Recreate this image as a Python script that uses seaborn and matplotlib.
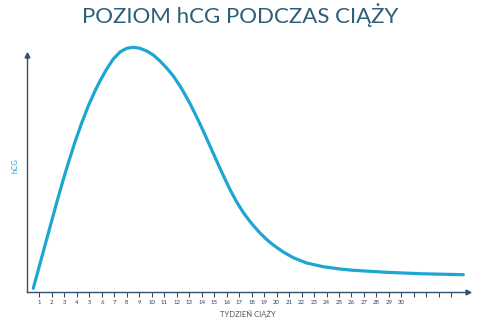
import matplotlib
matplotlib.use("Agg")
import matplotlib.pyplot as plt
import seaborn as sns
import pandas as pd

# Data (relative hCG level, arbitrary units)
weeks = [0.503, 0.904, 1.304, 1.705, 2.106, 2.506, 2.907, 3.308, 3.845, 4.381, 4.910,
         5.447, 5.848, 6.385, 6.913, 7.450, 7.987, 8.516, 9.053, 9.590, 10.119,
         10.655, 11.192, 11.721, 12.258, 12.522, 13.059, 13.596, 14.125, 14.662,
         15.199, 15.728, 16.264, 16.801, 17.330, 17.867, 18.131, 18.668, 19.205, 19.734,
         20.535, 21.337, 22.410, 23.740, 25.079, 26.14, 28.82, 31.49, 34.96]
hcg = [3.7, 22.0, 40.3, 58.7, 77.0, 95.0, 112.5, 129.0, 150.0, 169.0, 186.0,
       201.0, 211.0, 223.0, 233.0, 240.0, 243.7, 244.7, 243.7, 241.0, 237.0,
       231.0, 224.0, 216.0, 206.0, 200.5, 188.5, 175.0, 161.0, 146.0,
       131.0, 116.5, 102.5, 90.0, 79.5, 70.5, 66.5, 59.0, 52.5, 47.0,
       40.0, 34.3, 29.0, 25.3, 23.0, 21.7, 19.7, 18.3, 17.3]
tick_weeks = list(range(1, 35))
tick_labels = [str(i) if i <= 30 else "" for i in tick_weeks]
title = "POZIOM hCG PODCZAS CIĄŻY"
xlabel = "TYDZIEŃ CIĄŻY"
ylabel = "hCG"

sns.set_style("white")
plt.rcParams['font.family'] = ['Lato', 'DejaVu Sans']

axis_col = "#34516b"
line_col = "#1ea6d2"

fig = plt.figure(figsize=(4.8, 3.2), dpi=100)
ax = fig.add_axes([27/480, 28/320, (468-27)/480, (292-40)/320])

df = pd.DataFrame({"week": weeks, "hcg": hcg})
sns.lineplot(data=df, x="week", y="hcg", ax=ax, color=line_col, linewidth=2.3,
             sort=True, clip_on=False, solid_joinstyle="round", solid_capstyle="round")

xmax = (468-39.5)/12.48 + 1
ytop = 237
ax.set_xlim(0, xmax)
ax.set_ylim(0, 252)

for s in ["top", "right"]:
    ax.spines[s].set_visible(False)
ax.spines["left"].set_bounds(0, ytop)
for s in ["left", "bottom"]:
    ax.spines[s].set_color(axis_col)
    ax.spines[s].set_linewidth(1.0)

# arrow heads
ax.plot([0], [ytop], marker="^", color=axis_col, markersize=3.5, clip_on=False)
ax.plot([xmax], [0], marker=">", color=axis_col, markersize=3.5, clip_on=False)

ax.set_xticks(tick_weeks)
ax.set_xticklabels(tick_labels, fontsize=4.3, color="#2c3e55")
ax.tick_params(axis="x", direction="out", length=3.5, width=0.8, color=axis_col, pad=2.5,
               bottom=True)
ax.set_yticks([])

ax.set_xlabel(xlabel, fontsize=5.5, color="#555555", labelpad=3)
ax.set_ylabel(ylabel, fontsize=5.5, color="#2aa3c6", labelpad=6)

fig.text(0.5, 1 - 15/320, title, ha="center", va="center", fontsize=16,
         color="#2e5f78", fontweight="normal")

fig.savefig("out.png", dpi=100)
